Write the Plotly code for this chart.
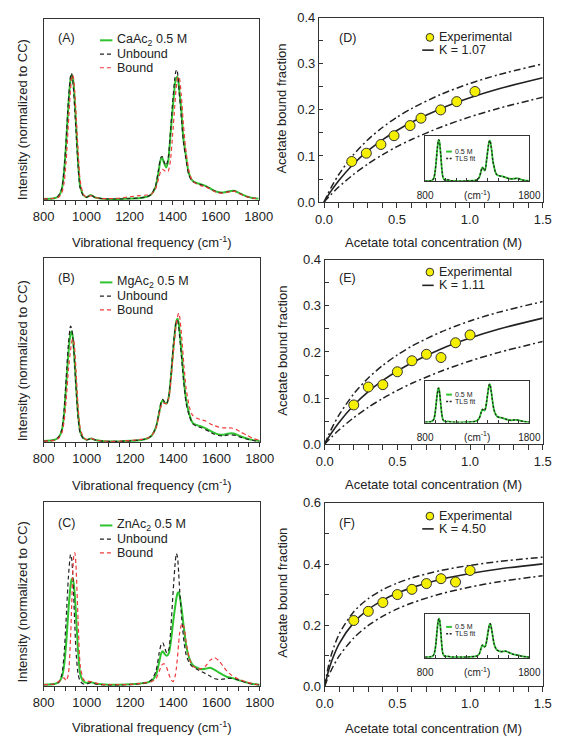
import plotly.graph_objects as go

W, H = 573, 753
FONT = "Liberation Sans, Arial, Helvetica, sans-serif"
INK = "#222222"
GREEN = "#2fc42f"
RED = "#ee3a3a"
YELLOW = "#f4f000"

# ---------------- spectra (left panels) ----------------
freq = [800, 850, 870, 885, 895, 905, 915, 925, 930, 935,
        940, 945, 950, 960, 970, 985, 1000, 1020, 1040, 1070,
        1100, 1150, 1200, 1250, 1280, 1300, 1320, 1335, 1345, 1352,
        1360, 1370, 1380, 1390, 1400, 1410, 1415, 1420, 1425, 1430,
        1440, 1450, 1460, 1475, 1490, 1510, 1530, 1550, 1570, 1590,
        1610, 1630, 1650, 1670, 1690, 1710, 1740, 1770, 1800]

ca_mix = [0.006, 0.010, 0.022, 0.060, 0.150, 0.310, 0.510, 0.660, 0.690, 0.680,
          0.635, 0.550, 0.445, 0.220, 0.080, 0.028, 0.016, 0.028, 0.014, 0.008,
          0.006, 0.006, 0.008, 0.012, 0.018, 0.030, 0.070, 0.160, 0.225, 0.232,
          0.205, 0.180, 0.220, 0.360, 0.500, 0.630, 0.665, 0.680, 0.670, 0.620,
          0.500, 0.340, 0.260, 0.150, 0.110, 0.095, 0.088, 0.080, 0.068, 0.054,
          0.045, 0.042, 0.045, 0.050, 0.050, 0.038, 0.022, 0.012, 0.008]
ca_unbound = [0.006, 0.010, 0.024, 0.065, 0.160, 0.330, 0.540, 0.680, 0.700, 0.670,
              0.600, 0.500, 0.400, 0.200, 0.068, 0.024, 0.015, 0.027, 0.014, 0.008,
              0.006, 0.006, 0.008, 0.012, 0.018, 0.030, 0.075, 0.170, 0.235, 0.240,
              0.212, 0.190, 0.235, 0.380, 0.540, 0.670, 0.710, 0.720, 0.680, 0.600,
              0.460, 0.320, 0.240, 0.140, 0.105, 0.092, 0.086, 0.078, 0.066, 0.053,
              0.044, 0.041, 0.044, 0.049, 0.049, 0.037, 0.021, 0.011, 0.008]
ca_bound = [0.006, 0.010, 0.016, 0.040, 0.090, 0.210, 0.410, 0.600, 0.670, 0.690,
            0.670, 0.600, 0.500, 0.290, 0.110, 0.032, 0.016, 0.025, 0.014, 0.008,
            0.008, 0.010, 0.018, 0.025, 0.028, 0.032, 0.060, 0.120, 0.160, 0.170,
            0.165, 0.155, 0.160, 0.220, 0.360, 0.520, 0.600, 0.650, 0.680, 0.680,
            0.580, 0.420, 0.290, 0.165, 0.110, 0.090, 0.080, 0.074, 0.064, 0.050,
            0.040, 0.038, 0.042, 0.048, 0.048, 0.036, 0.020, 0.011, 0.008]

mg_mix = [0.006, 0.012, 0.026, 0.065, 0.150, 0.310, 0.480, 0.590, 0.600, 0.575,
          0.510, 0.420, 0.320, 0.150, 0.055, 0.022, 0.013, 0.020, 0.012, 0.006,
          0.004, 0.004, 0.007, 0.012, 0.020, 0.035, 0.080, 0.160, 0.215, 0.228,
          0.215, 0.210, 0.250, 0.360, 0.500, 0.620, 0.660, 0.670, 0.650, 0.600,
          0.470, 0.330, 0.230, 0.150, 0.105, 0.092, 0.085, 0.075, 0.062, 0.050,
          0.042, 0.040, 0.045, 0.048, 0.043, 0.032, 0.020, 0.011, 0.006]
mg_unbound = [0.006, 0.012, 0.028, 0.070, 0.170, 0.350, 0.530, 0.630, 0.620, 0.575,
              0.500, 0.400, 0.300, 0.130, 0.048, 0.019, 0.012, 0.020, 0.012, 0.006,
              0.004, 0.004, 0.007, 0.012, 0.020, 0.035, 0.080, 0.165, 0.220, 0.232,
              0.218, 0.210, 0.250, 0.370, 0.520, 0.630, 0.660, 0.660, 0.630, 0.570,
              0.440, 0.310, 0.210, 0.140, 0.100, 0.085, 0.078, 0.068, 0.055, 0.043,
              0.036, 0.034, 0.038, 0.040, 0.036, 0.027, 0.017, 0.009, 0.005]
mg_bound = [0.005, 0.010, 0.021, 0.050, 0.110, 0.230, 0.390, 0.500, 0.540, 0.560,
            0.550, 0.495, 0.400, 0.190, 0.075, 0.026, 0.014, 0.020, 0.012, 0.007,
            0.005, 0.005, 0.009, 0.015, 0.022, 0.035, 0.075, 0.150, 0.200, 0.215,
            0.210, 0.210, 0.240, 0.340, 0.480, 0.600, 0.650, 0.680, 0.700, 0.680,
            0.560, 0.410, 0.290, 0.190, 0.145, 0.130, 0.122, 0.115, 0.100, 0.090,
            0.082, 0.078, 0.078, 0.077, 0.070, 0.056, 0.038, 0.020, 0.010]

zn_mix = [0.008, 0.012, 0.021, 0.050, 0.110, 0.235, 0.410, 0.545, 0.580, 0.585,
          0.555, 0.490, 0.395, 0.190, 0.065, 0.026, 0.018, 0.022, 0.015, 0.010,
          0.008, 0.008, 0.010, 0.015, 0.020, 0.030, 0.060, 0.130, 0.180, 0.190,
          0.175, 0.165, 0.180, 0.250, 0.350, 0.440, 0.480, 0.505, 0.510, 0.490,
          0.410, 0.310, 0.220, 0.150, 0.115, 0.100, 0.092, 0.095, 0.100, 0.090,
          0.075, 0.062, 0.050, 0.045, 0.038, 0.030, 0.020, 0.012, 0.008]
zn_unbound = [0.008, 0.012, 0.021, 0.065, 0.170, 0.370, 0.590, 0.715, 0.695, 0.610,
              0.475, 0.325, 0.195, 0.065, 0.026, 0.012, 0.012, 0.020, 0.012, 0.008,
              0.007, 0.007, 0.009, 0.014, 0.020, 0.035, 0.080, 0.180, 0.230, 0.236,
              0.210, 0.180, 0.200, 0.330, 0.520, 0.680, 0.720, 0.700, 0.620, 0.520,
              0.360, 0.240, 0.170, 0.125, 0.105, 0.092, 0.080, 0.068, 0.055, 0.042,
              0.037, 0.038, 0.042, 0.042, 0.038, 0.030, 0.019, 0.011, 0.007]
zn_bound = [0.008, 0.012, 0.025, 0.040, 0.045, 0.030, 0.065, 0.260, 0.430, 0.610,
            0.705, 0.725, 0.660, 0.360, 0.110, 0.036, 0.028, 0.025, 0.018, 0.010,
            0.008, 0.008, 0.010, 0.015, 0.020, 0.025, 0.040, 0.080, 0.110, 0.120,
            0.120, 0.100, 0.065, 0.035, 0.025, 0.060, 0.100, 0.160, 0.230, 0.290,
            0.340, 0.320, 0.240, 0.150, 0.110, 0.095, 0.095, 0.110, 0.140, 0.155,
            0.140, 0.110, 0.080, 0.060, 0.045, 0.035, 0.022, 0.013, 0.008]

# ---------------- binding curves (right panels) ----------------
conc_fit = [0.0, 0.025, 0.05, 0.1, 0.2, 0.3, 0.4, 0.5, 0.6, 0.8, 1.0, 1.2, 1.5]
ca_fit    = [0.0, 0.0129, 0.0248, 0.0462, 0.0820, 0.1109, 0.1350, 0.1553, 0.1731, 0.2027, 0.2263, 0.2459, 0.2698]
ca_fit_hi = [0.0, 0.0169, 0.0323, 0.0592, 0.1020, 0.1352, 0.1618, 0.1841, 0.2029, 0.2335, 0.2574, 0.2767, 0.3000]
ca_fit_lo = [0.0, 0.0087, 0.0170, 0.0325, 0.0595, 0.0825, 0.1026, 0.1202, 0.1358, 0.1625, 0.1848, 0.2036, 0.2274]
mg_fit    = [0.0, 0.0134, 0.0256, 0.0476, 0.0843, 0.1138, 0.1383, 0.1588, 0.1768, 0.2066, 0.2303, 0.2498, 0.2735]
mg_fit_hi = [0.0, 0.0185, 0.0352, 0.0640, 0.1092, 0.1436, 0.1710, 0.1937, 0.2128, 0.2435, 0.2674, 0.2865, 0.3095]
mg_fit_lo = [0.0, 0.0084, 0.0163, 0.0312, 0.0574, 0.0799, 0.0994, 0.1167, 0.1321, 0.1583, 0.1805, 0.1992, 0.2228]
zn_fit    = [0.0, 0.0482, 0.0852, 0.1396, 0.2081, 0.2513, 0.2819, 0.3049, 0.3227, 0.3501, 0.3690, 0.3839, 0.4006]
zn_fit_hi = [0.0, 0.0641, 0.1094, 0.1713, 0.2439, 0.2869, 0.3163, 0.3376, 0.3544, 0.3789, 0.3957, 0.4084, 0.4224]
zn_fit_lo = [0.0, 0.0312, 0.0572, 0.0991, 0.1579, 0.1988, 0.2294, 0.2532, 0.2726, 0.3027, 0.3245, 0.3419, 0.3619]

ca_exp_x = [0.19, 0.29, 0.39, 0.48, 0.59, 0.665, 0.80, 0.91, 1.035]
ca_exp_y = [0.088, 0.106, 0.125, 0.144, 0.166, 0.182, 0.200, 0.218, 0.240]
mg_exp_x = [0.2, 0.3, 0.4, 0.5, 0.6, 0.7, 0.8, 0.9, 1.0]
mg_exp_y = [0.085, 0.124, 0.129, 0.157, 0.181, 0.195, 0.188, 0.220, 0.237]
zn_exp_x = [0.2, 0.3, 0.4, 0.5, 0.6, 0.7, 0.8, 0.9, 1.0]
zn_exp_y = [0.215, 0.245, 0.274, 0.300, 0.317, 0.336, 0.352, 0.341, 0.379]

k_labels = ["K = 1.07", "K = 1.11", "K = 4.50"]
salt_labels = ["CaAc<sub>2</sub> 0.5 M", "MgAc<sub>2</sub> 0.5 M", "ZnAc<sub>2</sub> 0.5 M"]
panel_tags = ["(A)", "(B)", "(C)", "(D)", "(E)", "(F)"]

inset_tickvals = [800, 1300, 1800]
inset_ticktext = ["800", "(cm<sup>-1</sup>)", "1800"]


def fx(p):
    return p / W


def fy(p):
    return 1 - p / H


def ref(i):
    return ("x" if i == 1 else f"x{i}", "y" if i == 1 else f"y{i}")


def akey(a, i):
    return f"{a}axis" if i == 1 else f"{a}axis{i}"


fig = go.Figure()
layout = {}
shapes = []
annots = []

# geometry in pixels: (x0, x1, y_top, y_bottom)
left_geo = [(34, 259, 12, 197), (34, 260, 256, 444), (34, 260, 505, 693)]
right_geo = [(322, 556, 11, 199), (328, 556, 258, 446), (328, 556, 506, 693)]
inset_geo = [(433, 542, 132, 178), (433, 542, 382, 424), (433, 542, 619, 664)]

spectra = [(ca_mix, ca_unbound, ca_bound), (mg_mix, mg_unbound, mg_bound), (zn_mix, zn_unbound, zn_bound)]
fits = [(ca_fit, ca_fit_hi, ca_fit_lo), (mg_fit, mg_fit_hi, mg_fit_lo), (zn_fit, zn_fit_hi, zn_fit_lo)]
exps = [(ca_exp_x, ca_exp_y), (mg_exp_x, mg_exp_y), (zn_exp_x, zn_exp_y)]
inset_ymax = [0.75, 0.72, 0.66]

axis_common = dict(showgrid=False, zeroline=False, showline=True, linecolor="#333333",
                   linewidth=1, mirror=True, tickcolor="#333333", color=INK,
                   tickfont=dict(family=FONT, size=13, color=INK))

for k in range(3):
    # ---------- left spectra ----------
    i = k + 1
    xr, yr = ref(i)
    mix, unb, bnd = spectra[k]
    fig.add_trace(go.Scatter(x=freq, y=mix, xaxis=xr, yaxis=yr, mode="lines",
                             line=dict(color=GREEN, width=2, shape="spline", smoothing=0.6),
                             showlegend=False, hoverinfo="skip"))
    fig.add_trace(go.Scatter(x=freq, y=unb, xaxis=xr, yaxis=yr, mode="lines",
                             line=dict(color=INK, width=1.2, dash="4px,3px", shape="spline", smoothing=0.6),
                             showlegend=False, hoverinfo="skip"))
    fig.add_trace(go.Scatter(x=freq, y=bnd, xaxis=xr, yaxis=yr, mode="lines",
                             line=dict(color=RED, width=1.2, dash="4px,3px", shape="spline", smoothing=0.6),
                             showlegend=False, hoverinfo="skip"))
    x0, x1, yt, yb = left_geo[k]
    layout[akey("x", i)] = dict(axis_common, domain=[fx(x0), fx(x1)], range=[800, 1800], anchor=yr,
                                dtick=200, tick0=800, ticks="outside", ticklen=4,
                                minor=dict(dtick=50, ticks="outside", ticklen=4, tickcolor="#333333"))
    layout[akey("y", i)] = dict(axis_common, domain=[fy(yb), fy(yt)], range=[0, 1], anchor=xr,
                                showticklabels=False, ticks="")

    # ---------- right binding curves ----------
    j = k + 4
    xr, yr = ref(j)
    fit, hi, lo = fits[k]
    for arr, dash, wd in ((hi, "7px,3px,2px,3px", 1.5), (lo, "7px,3px,2px,3px", 1.5), (fit, "solid", 1.6)):
        fig.add_trace(go.Scatter(x=conc_fit, y=arr, xaxis=xr, yaxis=yr, mode="lines",
                                 line=dict(color=INK, width=wd, dash=dash, shape="spline", smoothing=0.8),
                                 showlegend=False, hoverinfo="skip"))
    ex, ey = exps[k]
    fig.add_trace(go.Scatter(x=ex, y=ey, xaxis=xr, yaxis=yr, mode="markers",
                             marker=dict(size=10, color=YELLOW, line=dict(color="#333333", width=1)),
                             showlegend=False, hoverinfo="skip"))
    x0, x1, yt, yb = right_geo[k]
    xrange = [-0.035, 1.5] if k == 0 else [0, 1.5]
    layout[akey("x", j)] = dict(axis_common, domain=[fx(x0), fx(x1)], range=xrange, anchor=yr,
                                tick0=0, dtick=0.5, tickformat=".1f", ticks="outside", ticklen=5,
                                minor=dict(dtick=0.1, tick0=0, ticks="outside", ticklen=5, tickcolor="#333333"))
    if k < 2:
        yopts = dict(range=[0, 0.4], dtick=0.1, minor=dict(dtick=0.05, ticks="inside", ticklen=4, tickcolor="#333333"))
    else:
        yopts = dict(range=[0, 0.6], dtick=0.2, minor=dict(dtick=0.1, ticks="inside", ticklen=4, tickcolor="#333333"))
    layout[akey("y", j)] = dict(axis_common, domain=[fy(yb), fy(yt)], anchor=xr, tick0=0,
                                tickformat=".1f", ticks="inside", ticklen=4, **yopts)

    # ---------- insets ----------
    n = k + 7
    xr, yr = ref(n)
    fig.add_trace(go.Scatter(x=freq, y=mix, xaxis=xr, yaxis=yr, mode="lines",
                             line=dict(color=GREEN, width=1.8, shape="spline", smoothing=0.6),
                             showlegend=False, hoverinfo="skip"))
    fig.add_trace(go.Scatter(x=freq, y=mix, xaxis=xr, yaxis=yr, mode="lines",
                             line=dict(color=INK, width=1.3, dash="2px,2px", shape="spline", smoothing=0.6),
                             showlegend=False, hoverinfo="skip"))
    x0, x1, yt, yb = inset_geo[k]
    layout[akey("x", n)] = dict(axis_common, domain=[fx(x0), fx(x1)], range=[800, 1800], anchor=yr,
                                tickvals=inset_tickvals, ticktext=inset_ticktext, ticks="inside", ticklen=3,
                                minor=dict(dtick=100, tick0=800, ticks="inside", ticklen=3, tickcolor="#333333"),
                                ticklabelstandoff=5, tickfont=dict(family=FONT, size=10, color=INK))
    layout[akey("y", n)] = dict(axis_common, domain=[fy(yb), fy(yt)], range=[0, inset_ymax[k]], anchor=xr,
                                showticklabels=False, ticks="")


def text(x, y, s, size=13, anchor="left", angle=0):
    annots.append(dict(x=fx(x), y=fy(y), xref="paper", yref="paper", text=s, showarrow=False,
                       xanchor=anchor, yanchor="middle", textangle=angle, borderpad=0,
                       font=dict(family=FONT, size=size, color=INK)))


def seg(x0, x1, y, color, width, dash="solid"):
    shapes.append(dict(type="line", xref="paper", yref="paper", x0=fx(x0), x1=fx(x1), y0=fy(y), y1=fy(y),
                       line=dict(color=color, width=width, dash=dash)))


# left panel legends, tags, titles
left_leg_y = [(34, 48, 62), (281, 295, 309), (529, 543, 557)]
left_tag_y = [32, 277, 526]
left_xt_y = [240, 488, 735]
left_yt_y = [115, 361, 607]
for k in range(3):
    ya, yb_, yc = left_leg_y[k]
    seg(93, 106, ya, GREEN, 2)
    seg(93, 106, yb_, INK, 1.2, "4px,3px")
    seg(93, 106, yc, RED, 1.2, "4px,3px")
    text(110, ya, salt_labels[k], 12.5)
    text(110, yb_, "Unbound", 12.5)
    text(110, yc, "Bound", 12.5)
    text(48, left_tag_y[k], panel_tags[k], 12.5)
    text(147, left_xt_y[k], "Vibrational frequency (cm<sup>-1</sup>)", 13, "center")
    text(12, left_yt_y[k], "Intensity (normalized to CC)", 13, "center", -90)

# right panel legends, tags, titles
right_leg = [(31, 44), (270.5, 284), (519.5, 532.5)]
right_tag_y = [32, 276, 526]
right_xt_y = [240, 487, 736]
right_yt_y = [104, 351, 598]
inset_leg = [(147.5, 154.5), (395.5, 402.5), (632.5, 639.5)]
for k in range(3):
    ye, yk = right_leg[k]
    shapes.append(dict(type="circle", xref="paper", yref="paper",
                       x0=fx(434), x1=fx(442), y0=fy(ye + 4), y1=fy(ye - 4),
                       fillcolor=YELLOW, line=dict(color="#333333", width=1)))
    text(447, ye, "Experimental", 12.5)
    seg(430, 442, yk, INK, 1.6)
    text(447, yk, k_labels[k], 12.5)
    text(342, right_tag_y[k], panel_tags[k + 3], 12.5)
    text(442, right_xt_y[k], "Acetate total concentration (M)", 13, "center")
    text(283, right_yt_y[k], "Acetate bound fraction", 13, "center", -90)
    yi1, yi2 = inset_leg[k]
    seg(455, 461, yi1, GREEN, 2)
    seg(455, 461, yi2, INK, 1.5, "2px,1.5px")
    text(463, yi1, "0.5 M", 7)
    text(463, yi2, "TLS fit", 7)

fig.update_layout(**layout)
fig.update_layout(width=W, height=H, margin=dict(l=0, r=0, t=0, b=0), autosize=False,
                  paper_bgcolor="white", plot_bgcolor="white", showlegend=False,
                  shapes=shapes, annotations=annots, font=dict(family=FONT, color=INK))

fig.write_html("out.html")
